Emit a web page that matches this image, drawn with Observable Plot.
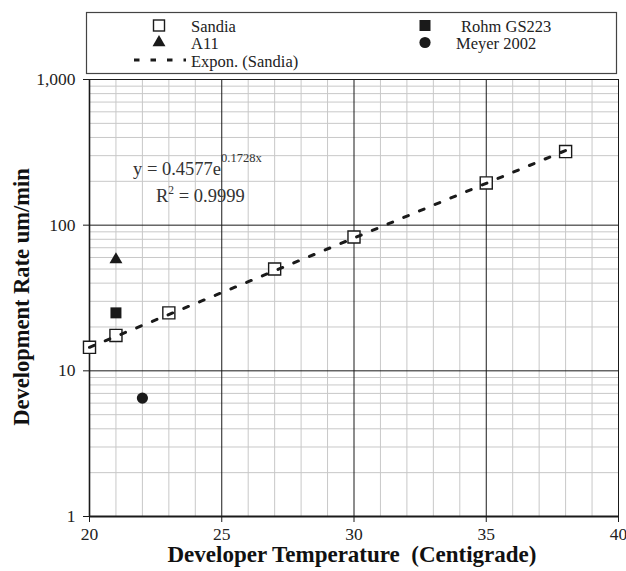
<!DOCTYPE html>
<html>
<head>
<meta charset="utf-8">
<script src="https://cdn.jsdelivr.net/npm/d3@7"></script>
<script src="https://cdn.jsdelivr.net/npm/@observablehq/plot@0.6"></script>
<style>
  body { margin: 0; background: #fff; }
  #chart { position: relative; width: 626px; height: 571px; }
  #chart svg { display: block; }
  #chart svg text, #chart svg tspan { font-family: "Liberation Serif", "Times New Roman", Times, serif !important; }
</style>
</head>
<body>
<div id="chart"></div>
<script>
// Development rate of the resist versus developer temperature
const sandiaTemp = [20, 21, 23, 27, 30, 35, 38];
const sandiaRate = [14.5, 17.5, 25, 50, 83, 195, 320];
const rohmTemp = [21];
const rohmRate = [25];
const a11Temp = [21];
const a11Rate = [58];
const meyerTemp = [22];
const meyerRate = [6.5];

// Exponential fit of the Sandia series: y = A·e^(B·x)
const fitA = 0.4577;
const fitB = 0.1728;
const fitR2 = "0.9999";
const fitRange = [20, 38];

const xTicks = [20, 25, 30, 35, 40];
const yTicks = [1, 10, 100, 1000];
const xTitle = "Developer Temperature  (Centigrade)";
const yTitle = "Development Rate um/min";

const legendItems = [
  {label: "Sandia", kind: "openSquare"},
  {label: "A11", kind: "triangle"},
  {label: "Expon. (Sandia)", kind: "dash"},
  {label: "Rohm GS223", kind: "square"},
  {label: "Meyer 2002", kind: "circle"}
];

const zip = (xs, ys) => xs.map((x, i) => ({t: x, r: ys[i]}));
const sandia = zip(sandiaTemp, sandiaRate);
const rohm = zip(rohmTemp, rohmRate);
const a11 = zip(a11Temp, a11Rate);
const meyer = zip(meyerTemp, meyerRate);
// on a log axis the exponential fit is a straight segment between its ends
const trend = fitRange.map(t => ({t, r: fitA * Math.exp(fitB * t)}));

const minorX = d3.range(20, 41).filter(v => !xTicks.includes(v));
const minorY = [1, 10, 100].flatMap(d => d3.range(2, 10).map(k => k * d));

const font = "'Liberation Serif','Times New Roman',Times,serif";
const ink = "#1a1a1a";

const chart = Plot.plot({
  width: 626,
  height: 571,
  marginLeft: 89,
  marginRight: 8,
  marginTop: 79,
  marginBottom: 55,
  style: {fontFamily: font, fontSize: "17px", color: "#222", background: "#fff", overflow: "visible"},
  x: {domain: [20, 40], label: null},
  y: {type: "log", domain: [1, 1000], label: null},
  marks: [
    Plot.ruleX(minorX, {stroke: "#c8c8c8", strokeWidth: 1}),
    Plot.ruleY(minorY, {stroke: "#c8c8c8", strokeWidth: 1}),
    Plot.ruleX(xTicks, {stroke: ink, strokeWidth: 1}),
    Plot.ruleY(yTicks, {stroke: ink, strokeWidth: 1}),
    Plot.ruleX([20], {stroke: ink, strokeWidth: 1.6}),
    Plot.ruleY([1], {stroke: ink, strokeWidth: 2}),
    Plot.axisX(xTicks, {tickSize: 6, tickPadding: 5, stroke: ink, label: null, fontSize: 17.5}),
    Plot.axisY(yTicks, {tickSize: 6, tickPadding: 8, stroke: ink, tickFormat: ",", label: null, fontSize: 17.5}),
    Plot.dot(sandia, {x: "t", y: "r", symbol: "square", r: 6.8, stroke: ink, strokeWidth: 1.4, fill: "white"}),
    Plot.dot(rohm, {x: "t", y: "r", symbol: "square", r: 6.2, fill: ink, stroke: "none"}),
    Plot.dot(a11, {x: "t", y: "r", symbol: "triangle", r: 4.8, fill: ink, stroke: "none"}),
    Plot.dot(meyer, {x: "t", y: "r", symbol: "circle", r: 5.6, fill: ink, stroke: "none"}),
    Plot.line(trend, {x: "t", y: "r", stroke: ink, strokeWidth: 3, strokeDasharray: "5,12"})
  ]
});

document.getElementById("chart").appendChild(chart);

const svg = d3.select(chart);

// fit equation
const eq = svg.append("text")
  .attr("x", 133).attr("y", 175).attr("text-anchor", "start")
  .attr("font-size", 18.5).attr("fill", "#333");
eq.append("tspan").text(`y = ${fitA}e`);
eq.append("tspan").attr("font-size", 12.5).attr("dy", -13).text(`${fitB}x`);

const r2 = svg.append("text")
  .attr("x", 156).attr("y", 202).attr("text-anchor", "start")
  .attr("font-size", 18.5).attr("fill", "#333");
r2.append("tspan").text("R");
r2.append("tspan").attr("font-size", 11.5).attr("dy", -8).text("2");
r2.append("tspan").attr("dy", 8).text(` = ${fitR2}`);

// axis titles
svg.append("text")
  .attr("x", 352).attr("y", 562)
  .attr("text-anchor", "middle")
  .attr("font-size", 23).attr("font-weight", "bold").attr("fill", "#111")
  .text(xTitle);
svg.append("text")
  .attr("transform", "translate(29,297) rotate(-90)")
  .attr("text-anchor", "middle")
  .attr("font-size", 22.5).attr("font-weight", "bold").attr("fill", "#111")
  .text(yTitle);

// legend
const lg = svg.append("g").attr("font-size", 16.5).attr("fill", "#222").attr("text-anchor", "start");
lg.append("rect")
  .attr("x", 86.5).attr("y", 12.5).attr("width", 530).attr("height", 61)
  .attr("fill", "white").attr("stroke", "#444").attr("stroke-width", 1.2);

const slots = [
  {sx: 159, sy: 25.5, tx: 191, ty: 31.5},
  {sx: 159, sy: 42.5, tx: 191, ty: 49},
  {sx: 159, sy: 60, tx: 191, ty: 66.5},
  {sx: 425, sy: 25.5, tx: 461, ty: 31.5},
  {sx: 425, sy: 42.5, tx: 456, ty: 49}
];
legendItems.forEach((item, i) => {
  const s = slots[i];
  if (item.kind === "openSquare") {
    lg.append("rect").attr("x", s.sx - 5.5).attr("y", s.sy - 5.5).attr("width", 11).attr("height", 11)
      .attr("fill", "white").attr("stroke", ink).attr("stroke-width", 1.4);
  } else if (item.kind === "square") {
    lg.append("rect").attr("x", s.sx - 5.5).attr("y", s.sy - 5.5).attr("width", 11).attr("height", 11).attr("fill", ink);
  } else if (item.kind === "triangle") {
    lg.append("path").attr("d", d3.symbol(d3.symbolTriangle, 4.8 * 4.8 * Math.PI)()).attr("transform", `translate(${s.sx},${s.sy})`).attr("fill", ink);
  } else if (item.kind === "circle") {
    lg.append("circle").attr("cx", s.sx).attr("cy", s.sy).attr("r", 5.6).attr("fill", ink);
  } else if (item.kind === "dash") {
    lg.append("line").attr("x1", 134).attr("x2", 186).attr("y1", s.sy).attr("y2", s.sy)
      .attr("stroke", ink).attr("stroke-width", 3).attr("stroke-dasharray", "5.5,11");
  }
  lg.append("text").attr("x", s.tx).attr("y", s.ty).text(item.label);
});
</script>
</body>
</html>
